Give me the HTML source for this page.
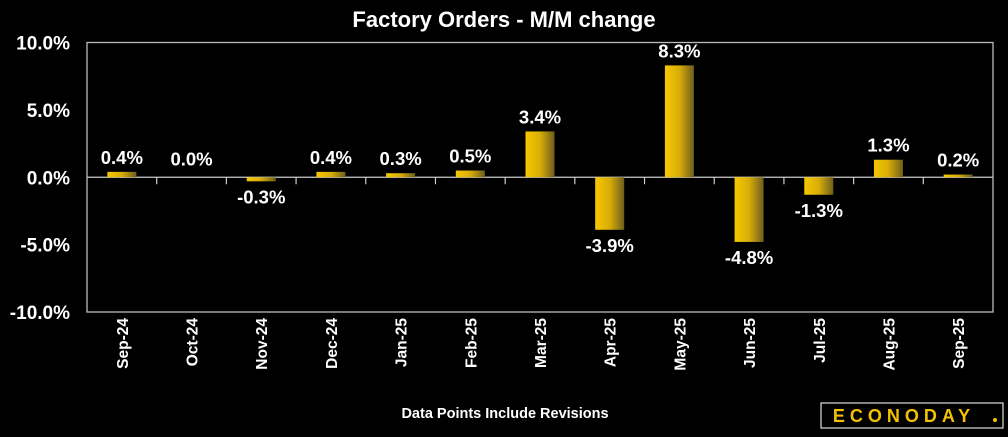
<!DOCTYPE html>
<html><head><meta charset="utf-8"><style>
body{margin:0;background:#000;width:1008px;height:432px;overflow:hidden}
svg text{font-family:"Liberation Sans",sans-serif;fill:#fff}
</style></head><body>
<svg id="c" width="1008" height="432">
<defs><linearGradient id="g" x1="0" x2="1" y1="0" y2="0"><stop offset="0" stop-color="#f7c800"/><stop offset="0.5" stop-color="#d8ad08"/><stop offset="1" stop-color="#6e5e1c"/></linearGradient></defs>
<text x="504" y="27" text-anchor="middle" font-size="22" font-weight="bold">Factory Orders - M/M change</text>
<rect x="87" y="42.5" width="906" height="269.5" fill="none" stroke="#bbb" stroke-width="1.3"/>
<g id="marks"></g>
<text x="505" y="418" text-anchor="middle" font-size="14.5" font-weight="bold">Data Points Include Revisions</text>
<g>
<rect x="821" y="403" width="182" height="25" fill="#000" stroke="#ddd" stroke-width="1.2"/>
<text x="904" y="422" text-anchor="middle" font-size="18" font-weight="bold" letter-spacing="5" style="fill:#f2c200">ECONODAY</text>
<circle cx="995" cy="420" r="2" fill="#f2c200"/>
</g>
</svg>
<script>
const categories=["Sep-24","Oct-24","Nov-24","Dec-24","Jan-25","Feb-25","Mar-25","Apr-25","May-25","Jun-25","Jul-25","Aug-25","Sep-25"];
const values=[0.4,0.0,-0.3,0.4,0.3,0.5,3.4,-3.9,8.3,-4.8,-1.3,1.3,0.2];
const yTicks=[10,5,0,-5,-10];
const L=87,R=993,T=42.5,B=312,yMin=-10,yMax=10;
const y=v=>T+(yMax-v)/(yMax-yMin)*(B-T);
const slot=(R-L)/categories.length;
const x=i=>L+slot*(i+0.5);
const g=document.getElementById('marks');
const NS="http://www.w3.org/2000/svg";
function mk(t,a){const e=document.createElementNS(NS,t);for(const k in a)e.setAttribute(k,a[k]);g.appendChild(e);return e;}
yTicks.forEach(t=>{
 const e=mk('text',{x:L-17,y:y(t)+7,'text-anchor':'end','font-size':19,'font-weight':'bold'});
 e.textContent=t.toFixed(1)+'%';
 
 
});
const z=y(0);
const zl=mk('line',{x1:L,x2:R,y1:z,y2:z,stroke:'#ccc','stroke-width':1.3});


categories.forEach((c,i)=>{
 if(i>0){const tk=mk('line',{x1:L+slot*i,x2:L+slot*i,y1:z,y2:z+7,stroke:'#ccc','stroke-width':1.2});
 
 }
 const v=values[i],bw=29;
 const top=Math.min(y(v),z),h=Math.abs(y(v)-z);
 const r=mk('rect',{x:x(i)-bw/2,y:top,width:bw,height:Math.max(h,0.01),fill:'url(#g)'});
 
 
 const ly=v>=0?y(v)-8:y(v)+22;
 const lb=mk('text',{x:x(i),y:(v===0?z-12:ly),'text-anchor':'middle','font-size':18.5,'font-weight':'bold'});
 lb.textContent=v.toFixed(1)+'%';
 
 
 const cl=mk('text',{x:0,y:0,'text-anchor':'end','font-size':15.5,'font-weight':'bold',transform:`translate(${x(i)+6},318) rotate(-90)`});
 cl.textContent=c;
 
 
});
</script>
</body></html>
